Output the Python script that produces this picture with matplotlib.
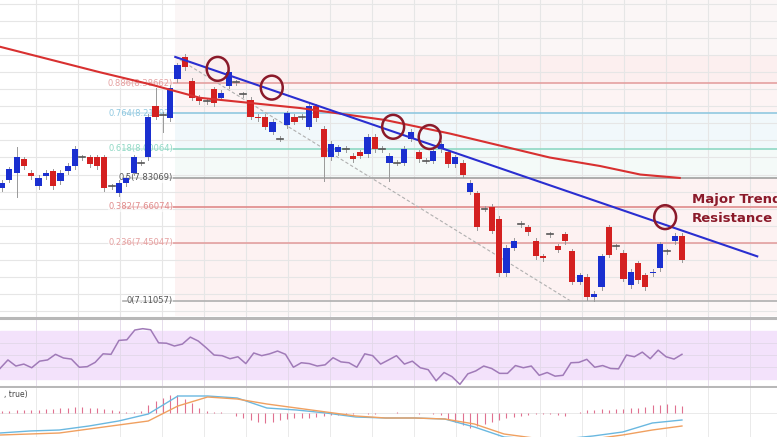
import matplotlib
matplotlib.use("Agg")
import matplotlib.pyplot as plt
from matplotlib.patches import Ellipse, Rectangle
import numpy as np

# ---------------- data ----------------
opens = [7.77,7.82,7.86,7.94,7.86,7.78,7.84,7.87,7.81,7.87,7.90,7.95,7.95,7.95,7.95,7.78,7.74,7.80,7.86,7.92,
         7.95,8.25,8.20,8.18,8.41,8.54,8.40,8.30,8.28,8.35,8.30,8.37,8.39,8.32,8.29,8.19,8.19,8.10,8.06,8.14,
         8.19,8.19,8.13,8.25,8.12,7.95,7.98,8.00,7.96,7.98,7.97,8.07,8.00,7.92,7.92,7.92,8.06,7.98,7.93,7.93,
         8.00,7.98,7.91,7.92,7.75,7.74,7.65,7.66,7.59,7.27,7.42,7.56,7.54,7.46,7.37,7.50,7.43,7.50,7.40,7.22,
         7.25,7.13,7.19,7.54,7.43,7.39,7.20,7.33,7.26,7.27,7.30,7.40,7.46,7.49]
closes = [7.80,7.88,7.95,7.90,7.84,7.83,7.86,7.78,7.86,7.90,8.00,7.95,7.91,7.90,7.77,7.78,7.80,7.83,7.95,7.92,
          8.19,8.19,8.20,8.36,8.49,8.48,8.30,8.28,8.28,8.27,8.33,8.45,8.39,8.32,8.19,8.18,8.13,8.16,8.06,8.21,
          8.16,8.19,8.25,8.18,7.95,8.03,8.01,8.00,7.94,7.96,8.07,8.00,8.00,7.96,7.92,8.00,8.10,7.94,7.93,7.99,
          8.03,7.91,7.95,7.85,7.80,7.54,7.65,7.52,7.27,7.42,7.46,7.56,7.51,7.37,7.36,7.50,7.41,7.46,7.22,7.26,
          7.13,7.15,7.37,7.38,7.43,7.24,7.28,7.23,7.19,7.28,7.44,7.40,7.49,7.35]
opens += [7.51, 7.54, 7.43, 7.33]
closes += [7.55, 7.43, 7.34, 7.45]
opens = opens[:94]; closes = closes[:94]
highs_extra = {2: 8.01, 21: 8.36, 22: 8.20, 44: 8.12}
lows_extra = {2: 7.72, 22: 8.10, 44: 7.81, 53: 7.81, 81: 7.11}

ma_bar = [-0.3, 13.4, 20.2, 27.1, 40.8, 52.4, 61.3, 68.1, 74.9, 81.8, 87.3, 92.7]
ma_values = [8.60, 8.45, 8.38, 8.30, 8.24, 8.17, 8.09, 8.02, 7.95, 7.90, 7.85, 7.83]

fib_ratio = [0.886, 0.764, 0.618, 0.5, 0.382, 0.236, 0.0]
fib_price = [8.38662, 8.21092, 8.00064, 7.83069, 7.66074, 7.45047, 7.11057]
fib_color = ["#e4a0a0", "#90c8e0", "#8fd8c4", "#a0a0a0", "#e08a8a", "#e4a0a0", "#b0b0b0"]

trend_pts = [(23.7, 8.54), (103.3, 7.37)]
circles = [(29.5, 8.47), (36.9, 8.36), (53.5, 8.13), (58.5, 8.07), (90.7, 7.60)]

rsi_values = [39,46,41,42.6,39.6,45,46,50.6,47.6,46.7,40,40.5,44,51,50.6,62,62.5,70.5,71.6,70.7,60,59.7,57.4,59,
              64.7,61.5,56,50,49.5,47,48.6,43,51.7,49.5,51,53.3,50.6,40,43.7,43,41,42,47.8,44.4,43.7,40,51,49.5,
              42.6,46,49.5,42.6,45,39.6,38,28.9,35.7,32.3,26,34.6,37,41,39,35,35,41.4,39.6,41,33.4,35.7,32.7,33.4,
              43.7,44,46.5,40,41.4,39,38.7,50,48.6,52.4,47,54,48.6,46.7,50.6]
macd_line = [-20,-18,-17,-13,-8,-1,17,17,15,5,3,0,-4,-5,-5,-6,-14,-24,-26,-26,-23,-19,-10,-7]
signal_line = [-22,-21,-20,-16,-12,-8,7,16,14,9,5,1,-3,-5,-5,-6,-11,-21,-25,-26,-26,-22,-17,-13]
hist = [2,2,3,3,3,3,4,4,5,5,6,6,5,5,4,3, 2,1,1,2, 8,12,15,18,18,14,10, 5,2,1,1,0,
        -3,-5,-7,-9,-10,-9,-7,-6,-5, -5,-5,-4,-3,-2,-2,-1,
        -1,0,-1,-1,0,0,1,0,0,-1,0,-1,-2, -6,-9,-12,-15,-13,-11,-9,-7,-5,-4,
        -3,-2,-1,-1,-1,-2,-3,0,1, 3,3,4,3,4,4,5,5,6,8,8,9,8,7]

# ---------------- figure ----------------
W, H = 777, 437
fig = plt.figure(figsize=(W/100, H/100), dpi=100)
fig.patch.set_facecolor("white")
N = len(opens)
xl = (-0.27, 106.0)
xs = np.arange(N)

def ax_px(top, bottom):
    return fig.add_axes([0, 1-bottom/H, 1, (bottom-top)/H])

ax = ax_px(0, 316)
ax.set_xlim(*xl)
ax.set_ylim(7.02, 8.874)
for s in ax.spines.values(): s.set_visible(False)
ax.set_xticks(np.arange(4.6, 106, 5.75)); ax.set_yticks(np.arange(7.05, 8.9, 0.1))
ax.tick_params(length=0, labelbottom=False, labelleft=False)
ax.grid(True, color="#e6e6e6", lw=0.8)
ax.set_axisbelow(True)

x0 = 23.7
bands = [(8.55081, 8.874, "#fbf6f6"), (fib_price[0], 8.55081, "#fcefef"), (fib_price[1], fib_price[0], "#fdf4f4"),
         (fib_price[2], fib_price[1], "#f1f8fb"), (fib_price[3], fib_price[2], "#f4faf8"),
         (fib_price[6], fib_price[3], "#fdf2f2"), (7.02, fib_price[6], "#fdf7f7")]
for lo, hi, c in bands:
    ax.add_patch(Rectangle((x0, lo), xl[1]-x0, hi-lo, color=c, zorder=0.5, lw=0))
for r, p, c in zip(fib_ratio, fib_price, fib_color):
    ax.plot([16.5, xl[1]], [p, p], color=c, lw=1.2, zorder=1)
    lab = ("%g" % r) + "(%.5f)" % p
    ax.text(23.4, p, lab, ha="right", va="center", fontsize=6, color=c if r not in (0.5, 0.0) else "#555",
            bbox=dict(fc="white", ec="none", pad=0.3, alpha=0.6), zorder=2)

ax.plot([23.7, 77.7], [8.54, 7.11], color="#b0b0b0", lw=0.8, ls=(0, (3, 2)), zorder=2)

for i, (o, c) in enumerate(zip(opens, closes)):
    hi = max(o, c) + 0.015; lo = min(o, c) - 0.015
    hi = max(hi, highs_extra.get(i, hi)); lo = min(lo, lows_extra.get(i, lo))
    col = "#1a2fd0" if c > o else ("#d42020" if c < o else "#555555")
    ax.plot([i, i], [lo, hi], color="#999999", lw=0.7, zorder=3)
    h = abs(c - o)
    if h < 0.008:
        ax.plot([i-0.4, i+0.4], [o, o], color="#555", lw=1.2, zorder=4)
    else:
        ax.add_patch(Rectangle((i-0.42, min(o, c)), 0.84, h, color=col, zorder=4, lw=0))

ax.plot(ma_bar, ma_values, color="#d83030", lw=1.5, zorder=5)
ax.plot([p[0] for p in trend_pts], [p[1] for p in trend_pts], color="#2a2ed0", lw=1.5, zorder=6)
for cx, cy in circles:
    ax.add_patch(Ellipse((cx, cy), 3.0, 0.14, fill=False, ec="#8b1a2a", lw=1.8, zorder=7))
ax.text(94.4, 7.645, "Major Trend\nResistance", fontsize=9.5, fontweight="bold", color="#8b1a2a",
        va="center", ha="left", linespacing=1.6, zorder=8)

ar = ax_px(316, 388)
ar.set_xlim(*xl); ar.set_ylim(23, 82)
for s in ar.spines.values(): s.set_visible(False)
ar.axhline(80.5, color="#b8b8b8", lw=2.2)
ar.axhline(24.2, color="#b8b8b8", lw=2.2)
ar.axhspan(30, 70, color="#f3e2fb", zorder=0)
ar.set_xticks(np.arange(4.6, 106, 5.75)); ar.set_yticks([40, 50, 60])
ar.tick_params(length=0, labelbottom=False, labelleft=False)
ar.grid(True, color="#e2d8e8", lw=0.6)
rx = np.linspace(-0.27, 93, len(rsi_values))
ar.plot(rx, rsi_values, color="#a07ab8", lw=1.1)

am = ax_px(388, 437)
am.set_xlim(*xl); am.set_ylim(-24, 25)
for s in am.spines.values(): s.set_visible(False)
am.set_xticks(np.arange(4.6, 106, 5.75)); am.set_yticks([0])
am.tick_params(length=0, labelbottom=False, labelleft=False)
am.grid(True, color="#e6e6e6", lw=0.6)
am.vlines(xs, 0, hist, color="#e07090", lw=0.8)
mx = np.linspace(-0.27, 93, len(macd_line))
am.plot(mx, macd_line, color="#6ab8e0", lw=1.0)
am.plot(mx, signal_line, color="#f0a060", lw=1.0)
am.text(0.3, 19, ", true)", fontsize=5.5, color="#444", va="center")

fig.savefig("out.png", dpi=100)
